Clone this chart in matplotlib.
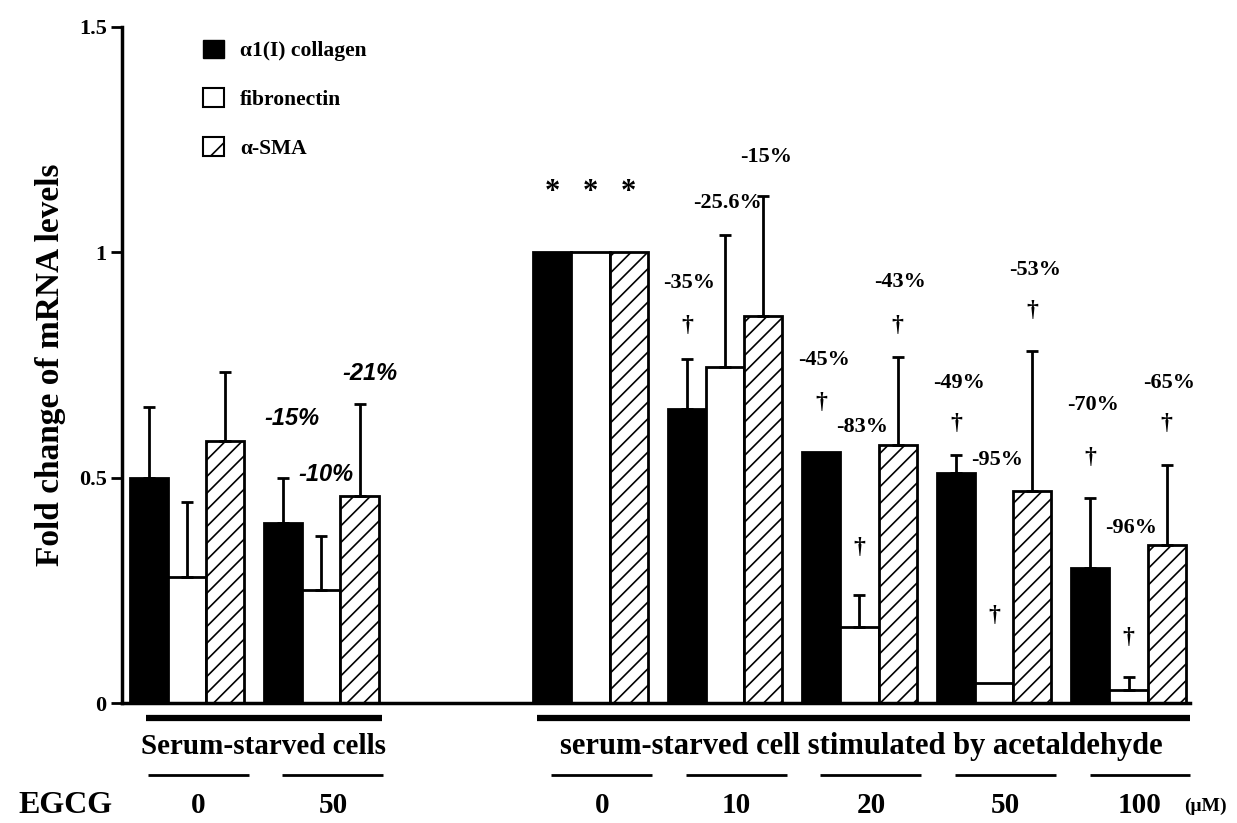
import matplotlib
matplotlib.use("Agg")
import matplotlib.pyplot as plt
import matplotlib.transforms as mtransforms
from matplotlib.patches import Patch
import numpy as np

plt.rcParams["font.family"] = ["Liberation Serif", "DejaVu Serif"]
plt.rcParams["font.weight"] = "bold"
plt.rcParams["hatch.linewidth"] = 1.2

# data
series = ["α1(I) collagen", "fibronectin", "α-SMA"]
group_pos = [0, 1, 3, 4, 5, 6, 7]
doses = ["0", "50", "0", "10", "20", "50", "100"]

collagen = [0.50, 0.40, 1.00, 0.652, 0.557, 0.51, 0.30]
fibronectin = [0.28, 0.25, 1.00, 0.745, 0.169, 0.044, 0.029]
sma = [0.58, 0.46, 1.00, 0.858, 0.572, 0.47, 0.35]

nan = np.nan
collagen_err = [0.156, 0.10, nan, 0.111, nan, 0.04, 0.154]
fibronectin_err = [0.166, 0.12, nan, 0.292, 0.071, nan, 0.029]
sma_err = [0.154, 0.203, nan, 0.266, 0.195, 0.31, 0.178]

# italic % labels over the serum-starved group (EGCG 50)
left_pct = ["-15%", "-10%", "-21%"]
left_pct_y = [0.63, 0.506, 0.73]

# % labels and daggers over the acetaldehyde groups (10..100), per bar
right_pct = ["-35%", "-25.6%", "-15%", "-45%", "-83%", "-43%",
             "-49%", "-95%", "-53%", "-70%", "-96%", "-65%"]
right_pct_y = [0.931, 1.109, 1.21, 0.76, 0.612, 0.933,
               0.71, 0.539, 0.96, 0.66, 0.388, 0.71]
dagger_y = [0.838, nan, nan, 0.667, 0.344, 0.838,
            0.62, 0.195, 0.871, 0.545, 0.146, 0.62]

values = [collagen, fibronectin, sma]
errors = [collagen_err, fibronectin_err, sma_err]
faces = ["black", "white", "white"]
hatches = [None, None, "//"]

fig = plt.figure(figsize=(12.37, 8.23), dpi=100)
ax = fig.add_axes([0.0986, 0.1458, 0.8634, 0.822])

w = 0.283
x0 = np.array(group_pos, dtype=float)
for i in range(3):
    xs = x0 + (i - 1) * w
    ax.bar(xs, values[i], width=w, color=faces[i], edgecolor="black",
           linewidth=2, hatch=hatches[i], zorder=2)
    v = np.array(values[i])
    e = np.array(errors[i])
    m = ~np.isnan(e)
    ax.errorbar(xs[m], v[m], yerr=[np.zeros(m.sum()), e[m]], fmt="none",
                ecolor="black", elinewidth=2, capsize=4.5, capthick=2, zorder=3)

ax.set_xlim(-0.483, 7.457)
ax.set_ylim(0, 1.5)
ax.set_yticks([0, 0.5, 1, 1.5])
ax.set_yticklabels(["0", "0.5", "1", "1.5"])
ax.tick_params(axis="y", direction="out", length=8, width=2, labelsize=16, pad=3)
ax.set_xticks([])
for s in ["top", "right"]:
    ax.spines[s].set_visible(False)
ax.spines["left"].set_linewidth(2.5)
ax.spines["bottom"].set_linewidth(2.5)
ax.set_ylabel("Fold change of mRNA levels", fontsize=24, fontweight="bold",
              labelpad=9)

# left italic labels
for k, (t, y) in enumerate(zip(left_pct, left_pct_y)):
    bx = 1 + (k - 1) * w
    ax.text(bx + [0.06, 0.03, 0.08][k], y, t, fontsize=17, ha="center", va="center",
            family="Liberation Sans", style="italic", weight="bold")

# asterisks over acetaldehyde-only bars
for i in range(3):
    ax.text(3 + (i - 1) * w, 1.133, "*", fontsize=22, ha="center", va="center")

# percent labels and daggers
k = 0
for g in [4, 5, 6, 7]:
    for i in range(3):
        bx = g + (i - 1) * w
        ax.text(bx + 0.02, right_pct_y[k], right_pct[k], fontsize=16,
                ha="center", va="center")
        if not np.isnan(dagger_y[k]):
            ax.text(bx, dagger_y[k], "†", fontsize=17, ha="center", va="center")
        k += 1

# legend
handles = [Patch(facecolor="black", edgecolor="black"),
           Patch(facecolor="white", edgecolor="black", linewidth=1.5),
           Patch(facecolor="white", edgecolor="black", linewidth=1.5, hatch="/")]
ax.legend(handles, series, loc="upper left", bbox_to_anchor=(0.058, 1.009),
          frameon=False, fontsize=15.5, labelspacing=1.25, handlelength=0.95,
          handleheight=0.95, handletextpad=0.75)

# annotations under the axis
trans = mtransforms.blended_transform_factory(ax.transData, ax.transAxes)
ax.plot([-0.305, 1.45], [-0.022, -0.022], color="black", lw=4.5,
        transform=trans, clip_on=False, solid_capstyle="butt")
ax.plot([2.60, 7.457], [-0.022, -0.022], color="black", lw=4.5,
        transform=trans, clip_on=False, solid_capstyle="butt")
ax.text(0.57, -0.065, "Serum-starved cells", fontsize=21, ha="center",
        va="center", transform=trans)
ax.text(5.015, -0.065, "serum-starved cell stimulated by acetaldehyde",
        fontsize=22, ha="center", va="center", transform=trans)
for g, d in zip(group_pos, doses):
    ax.plot([g - 0.29, g + 0.46], [-0.106, -0.106], color="black", lw=2,
            transform=trans, clip_on=False, solid_capstyle="butt")
    ax.text(g + 0.085, -0.151, d, fontsize=21, ha="center", va="center",
            transform=trans)
ax.text(-0.905, -0.151, "EGCG", fontsize=23, ha="center", va="center",
        transform=trans)
ax.text(7.57, -0.153, "(μM)", fontsize=14, ha="center", va="center",
        transform=trans)

fig.savefig("out.png", dpi=100)
